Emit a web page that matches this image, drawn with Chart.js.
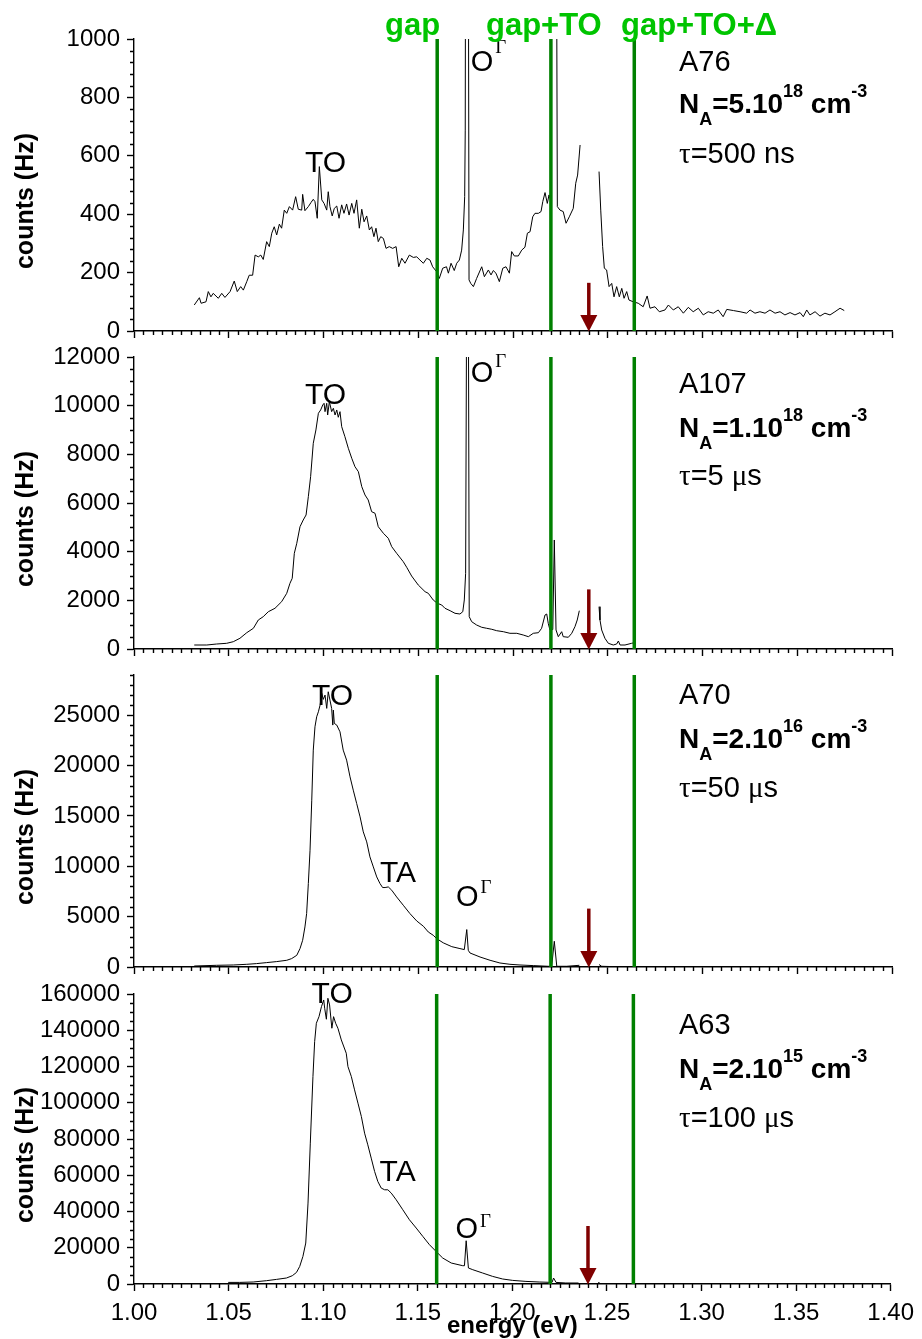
<!DOCTYPE html>
<html>
<head>
<meta charset="utf-8">
<title>PL spectra</title>
<script src="https://cdn.jsdelivr.net/npm/chart.js@4.4.1/dist/chart.umd.min.js"></script>
<style>
  body { margin: 0; background: #fff; }
  #wrap { position: relative; width: 922px; height: 1339px; }
  #wrap canvas { position: absolute; left: 0; top: 0; }
</style>
</head>
<body>
<div id="wrap">
  <canvas id="p0" width="922" height="1339"></canvas>
  <canvas id="p1" width="922" height="1339"></canvas>
  <canvas id="p2" width="922" height="1339"></canvas>
  <canvas id="p3" width="922" height="1339"></canvas>
</div>
<script>
// spectra: [energy (eV), counts (Hz)], null = detector gap
const a76 = [[1.0318,89],[1.0345,114],[1.0354,95],[1.0380,100],[1.0392,135],[1.0406,117],[1.0418,129],[1.0445,112],[1.0463,129],[1.0480,115],[1.0507,135],[1.0529,171],[1.0545,135],[1.0563,152],[1.0577,140],[1.0595,169],[1.0608,191],[1.0626,191],[1.0639,260],[1.0656,254],[1.0669,260],[1.0682,245],[1.0700,306],[1.0714,289],[1.0727,335],[1.0740,357],[1.0753,329],[1.0767,366],[1.0779,352],[1.0793,414],[1.0806,403],[1.0820,426],[1.0837,414],[1.0853,460],[1.0867,417],[1.0885,414],[1.0890,468],[1.0902,412],[1.0920,426],[1.0934,440],[1.0946,451],[1.0955,443],[1.0967,386],[1.0978,563],[1.0991,449],[1.1003,437],[1.1017,414],[1.1025,477],[1.1034,426],[1.1046,394],[1.1057,420],[1.1070,428],[1.1082,386],[1.1096,432],[1.1108,403],[1.1122,435],[1.1135,397],[1.1149,437],[1.1161,403],[1.1175,449],[1.1189,352],[1.1202,417],[1.1214,374],[1.1228,394],[1.1242,346],[1.1254,357],[1.1266,323],[1.1277,352],[1.1289,306],[1.1302,323],[1.1316,317],[1.1330,283],[1.1347,289],[1.1365,283],[1.1383,289],[1.1397,220],[1.1413,249],[1.1430,232],[1.1453,260],[1.1474,252],[1.1492,254],[1.1509,243],[1.1527,232],[1.1545,249],[1.1562,243],[1.1576,220],[1.1597,203],[1.1611,180],[1.1629,215],[1.1649,220],[1.1659,198],[1.1673,232],[1.1690,207],[1.1703,232],[1.1717,243],[1.1729,277],[1.1738,346],[1.1745,460],[1.1748,688],[1.1752,2500],[1.1761,2500],[1.1768,175],[1.1777,163],[1.1791,152],[1.1808,180],[1.1835,220],[1.1849,186],[1.1870,209],[1.1884,192],[1.1896,207],[1.1910,198],[1.1928,169],[1.1946,215],[1.1963,220],[1.1981,198],[1.1993,272],[1.2007,257],[1.2028,257],[1.2046,277],[1.2063,287],[1.2076,335],[1.2090,340],[1.2104,391],[1.2116,403],[1.2134,403],[1.2148,409],[1.2157,443],[1.2169,474],[1.2181,437],[1.2190,466],[1.2199,449],[1.2207,2500],[1.2224,2500],[1.2234,426],[1.2248,414],[1.2265,409],[1.2280,369],[1.2297,391],[1.2318,420],[1.2331,506],[1.2341,534],[1.2354,637],[1.2400,null],[1.2454,546],[1.2463,414],[1.2473,289],[1.2482,215],[1.2494,209],[1.2507,152],[1.2521,163],[1.2533,117],[1.2547,152],[1.2561,117],[1.2574,146],[1.2586,112],[1.2600,135],[1.2612,106],[1.2635,100],[1.2661,95],[1.2687,83],[1.2708,120],[1.2723,78],[1.2749,83],[1.2772,66],[1.2802,72],[1.2820,89],[1.2846,72],[1.2872,83],[1.2899,61],[1.2925,81],[1.2951,66],[1.2978,78],[1.3004,55],[1.3030,66],[1.3057,61],[1.3083,72],[1.3109,49],[1.3128,74],[1.3163,70],[1.3198,66],[1.3233,61],[1.3251,72],[1.3277,61],[1.3303,66],[1.3330,61],[1.3356,72],[1.3383,61],[1.3409,66],[1.3435,55],[1.3462,63],[1.3488,55],[1.3515,63],[1.3532,49],[1.3550,72],[1.3567,55],[1.3594,66],[1.3620,51],[1.3646,61],[1.3673,55],[1.3699,66],[1.3726,78],[1.3748,70]];

const a107 = [[1.0318,164],[1.0384,164],[1.0436,205],[1.0489,234],[1.0524,300],[1.0559,440],[1.0595,670],[1.0630,851],[1.0656,1192],[1.0682,1328],[1.0709,1533],[1.0744,1673],[1.0779,1944],[1.0806,2289],[1.0823,2700],[1.0835,2906],[1.0846,3933],[1.0859,4344],[1.0876,5026],[1.0893,5302],[1.0908,5507],[1.0920,6260],[1.0932,7082],[1.0946,8454],[1.0960,9001],[1.0973,9687],[1.0985,9823],[1.0996,10028],[1.1003,10097],[1.1008,9754],[1.1017,10097],[1.1022,9617],[1.1031,10165],[1.1043,9754],[1.1052,9892],[1.1061,9617],[1.1070,9823],[1.1078,9523],[1.1087,9754],[1.1096,9137],[1.1113,8726],[1.1131,8249],[1.1149,7838],[1.1166,7493],[1.1184,7287],[1.1202,6671],[1.1219,6329],[1.1236,6124],[1.1254,5643],[1.1272,5577],[1.1289,5026],[1.1316,4755],[1.1342,4550],[1.1360,4205],[1.1386,3933],[1.1421,3588],[1.1439,3358],[1.1465,3000],[1.1500,2630],[1.1536,2355],[1.1553,2289],[1.1579,2014],[1.1601,1878],[1.1624,1808],[1.1641,1673],[1.1668,1574],[1.1694,1467],[1.1720,1438],[1.1735,1533],[1.1743,2014],[1.1750,3111],[1.1756,16000],[1.1764,16000],[1.1769,1328],[1.1782,1122],[1.1808,986],[1.1835,892],[1.1861,851],[1.1888,810],[1.1914,752],[1.1949,711],[1.1984,645],[1.2020,645],[1.2054,575],[1.2081,506],[1.2107,645],[1.2134,670],[1.2151,851],[1.2169,1397],[1.2178,1438],[1.2186,1056],[1.2195,781],[1.2210,800],[1.2218,4480],[1.2227,781],[1.2239,506],[1.2257,711],[1.2265,506],[1.2292,481],[1.2310,645],[1.2327,917],[1.2339,1192],[1.2350,1574],[1.2400,null],[1.2454,1739],[1.2459,1192],[1.2468,781],[1.2485,440],[1.2503,234],[1.2529,164],[1.2547,205],[1.2556,329],[1.2565,164],[1.2591,164],[1.2626,234],[1.2635,250]];

const a70 = [[1.0318,99],[1.0436,169],[1.0524,199],[1.0595,268],[1.0647,338],[1.0700,437],[1.0753,537],[1.0806,666],[1.0832,835],[1.0859,1163],[1.0876,1829],[1.0890,2654],[1.0902,3976],[1.0911,5308],[1.0920,8290],[1.0929,11600],[1.0938,16570],[1.0946,21540],[1.0955,23856],[1.0964,24850],[1.0973,25347],[1.0982,26013],[1.0991,27176],[1.0999,26580],[1.1008,27007],[1.1017,25685],[1.1025,27335],[1.1034,26510],[1.1043,25685],[1.1049,24025],[1.1052,25516],[1.1057,24194],[1.1070,24025],[1.1087,23359],[1.1104,21540],[1.1122,20546],[1.1140,18886],[1.1157,17564],[1.1175,16242],[1.1193,14910],[1.1210,13419],[1.1228,12425],[1.1245,10934],[1.1263,9940],[1.1281,8946],[1.1298,8290],[1.1312,7892],[1.1325,7892],[1.1342,7952],[1.1360,7624],[1.1386,6958],[1.1421,6133],[1.1456,5308],[1.1492,4572],[1.1527,4050],[1.1553,3479],[1.1579,3151],[1.1597,2823],[1.1632,2400],[1.1677,2020],[1.1720,1829],[1.1743,1730],[1.1756,3718],[1.1764,1660],[1.1773,1392],[1.1826,994],[1.1879,666],[1.1931,398],[1.1984,268],[1.2037,199],[1.2107,139],[1.2186,70],[1.2204,70],[1.2218,2555],[1.2231,70],[1.2283,70],[1.2350,169],[1.2400,null],[1.2454,239],[1.2468,70],[1.2565,20],[1.3000,20],[1.3748,20]];

const a63 = [[1.0498,882],[1.0559,882],[1.0630,1102],[1.0700,1819],[1.0753,2536],[1.0806,3307],[1.0837,4575],[1.0859,6394],[1.0876,9701],[1.0893,15213],[1.0908,22600],[1.0920,44650],[1.0932,77720],[1.0946,114430],[1.0955,133720],[1.0964,143860],[1.0978,147500],[1.0991,153020],[1.1003,156700],[1.1008,152130],[1.1017,146070],[1.1025,157640],[1.1034,153950],[1.1046,141110],[1.1055,147500],[1.1066,143860],[1.1078,141110],[1.1096,134660],[1.1122,127330],[1.1131,119940],[1.1149,114430],[1.1166,107100],[1.1184,99770],[1.1202,92380],[1.1219,83230],[1.1236,76780],[1.1254,69450],[1.1272,62070],[1.1289,56560],[1.1307,52920],[1.1325,51980],[1.1342,51980],[1.1360,50160],[1.1386,46470],[1.1421,40960],[1.1456,35440],[1.1492,30870],[1.1527,26240],[1.1562,21660],[1.1597,17970],[1.1632,14330],[1.1677,11580],[1.1738,10090],[1.1747,10090],[1.1756,23870],[1.1768,8820],[1.1791,7880],[1.1843,6063],[1.1896,4190],[1.1949,2756],[1.2002,1984],[1.2072,1433],[1.2142,1102],[1.2210,882],[1.2218,3307],[1.2231,882],[1.2283,551],[1.2350,551],[1.2400,null],[1.2454,882],[1.2468,165],[1.2635,100]];

const spectra = [a76, a107, a70, a63];

// sample labels
const sampleNames = ['A76', 'A107', 'A70', 'A63'];
const dopingMantissa = ['5', '1', '2', '2'];
const dopingExponent = ['18', '18', '16', '15'];
const lifetimeValue = ['500', '5', '50', '100'];
const lifetimeUnit = ['ns', 'μs', 'μs', 'μs'];

// reference energies (eV): gap, gap+TO, gap+TO+Δ
const markerEnergies = [1.16, 1.22, 1.264];
const markerLabels = ['gap', 'gap+TO', 'gap+TO+Δ'];
const arrowEnergy = 1.24;
const arrowTops = [165, 2450, 5800, 32000];

// axes
const energyMin = 1.0, energyMax = 1.4, energyStep = 0.05, energyMinor = 0.005;
const countsMax = [1000, 12000, 29000, 160000];
const countsStep = [200, 2000, 5000, 20000];
const countsMinor = [40, 500, 1000, 5000];

// page layout (px)
const panelTop = [39, 357, 675, 994];
const panelBottom = [331, 649, 967, 1284];
const plotLeft = 134, plotRight = 892, xAxisBox = 50;
const infoBaselines = [[32, 74, 124], [36, 80, 128], [29, 73, 122], [40, 84, 133]];
const toLabel = [[1.0902, 133], [1.0902, 47], [1.0939, 30], [1.0939, 9]];
const taLabel = [null, null, [1.1298, 207], [1.1298, 187]];
const oLabel = [[1.1777, 32, -18], [1.1777, 25, -15], [1.1699, 231, -13], [1.1699, 244, -11]];

const SANS = "'Liberation Sans', Arial, sans-serif";
const SERIF = "'Liberation Serif', 'Times New Roman', serif";
Chart.defaults.font.family = SANS;
Chart.defaults.color = '#000';

function drawRuns(ctx, x, y, runs) {
  for (const r of runs) {
    ctx.font = r.font;
    ctx.fillText(r.t, x + (r.dx || 0), y + (r.dy || 0));
    x += ctx.measureText(r.t).width + (r.dx || 0);
  }
}

function crisp(v) { return Math.round(v) + 0.5; }

const panelDecor = {
  id: 'panelDecor',
  afterDatasetsDraw(chart, args, opts) {
    const i = opts.panel;
    const { ctx, scales: { x, y } } = chart;
    const ax = x.getPixelForValue(arrowEnergy);
    const y0 = y.getPixelForValue(0);
    const yt = y.getPixelForValue(arrowTops[i]);
    ctx.save();
    ctx.strokeStyle = ctx.fillStyle = '#800000';
    ctx.lineWidth = 3.5;
    ctx.beginPath();
    ctx.moveTo(ax, yt);
    ctx.lineTo(ax, y0 - 12);
    ctx.stroke();
    ctx.beginPath();
    ctx.moveTo(ax - 8.5, y0 - 16);
    ctx.lineTo(ax + 8.5, y0 - 16);
    ctx.lineTo(ax, y0 + 0.5);
    ctx.closePath();
    ctx.fill();
    ctx.restore();
  },
  afterDraw(chart, args, opts) {
    const i = opts.panel;
    const { ctx, chartArea: area, scales: { x, y } } = chart;
    ctx.save();

    // minor ticks
    ctx.strokeStyle = '#000';
    ctx.lineWidth = 1.4;
    ctx.beginPath();
    const nx = Math.round((energyMax - energyMin) / energyMinor);
    for (let k = 0; k <= nx; k++) {
      if (k % 10 === 0) continue;
      const px = crisp(x.getPixelForValue(energyMin + k * energyMinor));
      ctx.moveTo(px, area.bottom);
      ctx.lineTo(px, area.bottom + 4);
    }
    const ny = Math.round(countsMax[i] / countsMinor[i]);
    for (let k = 0; k <= ny; k++) {
      const v = k * countsMinor[i];
      if (v % countsStep[i] === 0) continue;
      const py = crisp(y.getPixelForValue(v));
      ctx.moveTo(area.left, py);
      ctx.lineTo(area.left - 4, py);
    }
    ctx.stroke();

    ctx.fillStyle = '#000';
    ctx.textAlign = 'left';
    ctx.textBaseline = 'alphabetic';

    // y axis title
    ctx.save();
    ctx.translate(26, (area.top + area.bottom) / 2 + 16);
    ctx.rotate(-Math.PI / 2);
    ctx.textAlign = 'center';
    ctx.textBaseline = 'middle';
    ctx.font = 'bold 25px ' + SANS;
    ctx.fillText('counts (Hz)', 0, 0);
    ctx.restore();

    // sample info
    const lx = 679;
    const [b1, b2, b3] = infoBaselines[i];
    ctx.font = '29px ' + SANS;
    ctx.fillText(sampleNames[i], lx, area.top + b1);
    drawRuns(ctx, lx, area.top + b2, [
      { t: 'N', font: 'bold 28px ' + SANS },
      { t: 'A', font: 'bold 18px ' + SANS, dy: 12 },
      { t: '=' + dopingMantissa[i] + '.10', font: 'bold 28px ' + SANS },
      { t: dopingExponent[i], font: 'bold 18px ' + SANS, dy: -16 },
      { t: ' cm', font: 'bold 28px ' + SANS },
      { t: '-3', font: 'bold 18px ' + SANS, dy: -16 }
    ]);
    const unit = lifetimeUnit[i];
    const tauRuns = [
      { t: 'τ', font: '29px ' + SERIF },
      { t: '=' + lifetimeValue[i] + ' ', font: '29px ' + SANS }
    ];
    if (unit[0] === 'μ') {
      tauRuns.push({ t: 'μ', font: '29px ' + SERIF });
      tauRuns.push({ t: unit.slice(1), font: '29px ' + SANS });
    } else {
      tauRuns.push({ t: unit, font: '29px ' + SANS });
    }
    drawRuns(ctx, lx, area.top + b3, tauRuns);

    // peak labels
    ctx.font = '30px ' + SANS;
    ctx.fillText('TO', x.getPixelForValue(toLabel[i][0]), area.top + toLabel[i][1]);
    if (taLabel[i]) {
      ctx.fillText('TA', x.getPixelForValue(taLabel[i][0]), area.top + taLabel[i][1]);
    }
    drawRuns(ctx, x.getPixelForValue(oLabel[i][0]), area.top + oLabel[i][1], [
      { t: 'O', font: '29px ' + SANS },
      { t: 'Γ', font: '19px ' + SERIF, dy: oLabel[i][2], dx: 2 }
    ]);

    // energy markers names above the top panel
    if (i === 0) {
      ctx.fillStyle = '#00c400';
      ctx.font = 'bold 31px ' + SANS;
      const lefts = [385, 486, 621];
      markerLabels.forEach((t, k) => ctx.fillText(t, lefts[k], 35));
    }
    // x axis title under the bottom panel
    if (i === 3) {
      ctx.fillStyle = '#000';
      ctx.textAlign = 'center';
      ctx.font = 'bold 24px ' + SANS;
      ctx.fillText('energy (eV)', (area.left + area.right) / 2, 1333);
    }
    ctx.restore();
  }
};

function makePanel(i) {
  const markerSets = markerEnergies.map(e => ({
    data: [{ x: e, y: 0 }, { x: e, y: countsMax[i] }],
    borderColor: '#008000',
    borderWidth: 3.5,
    pointRadius: 0
  }));
  const spectrumSet = {
    data: spectra[i].map(p => ({ x: p[0], y: p[1] })),
    borderColor: '#000',
    borderWidth: 1,
    pointRadius: 0,
    tension: 0,
    spanGaps: false
  };
  const last = i === 3;
  new Chart(document.getElementById('p' + i), {
    type: 'line',
    data: { datasets: [...markerSets, spectrumSet] },
    options: {
      responsive: false,
      devicePixelRatio: 1,
      animation: false,
      events: [],
      layout: {
        padding: { left: 0, right: 922 - plotRight, top: panelTop[i], bottom: 1339 - panelBottom[i] - xAxisBox }
      },
      plugins: {
        legend: { display: false },
        tooltip: { enabled: false },
        panelDecor: { panel: i }
      },
      scales: {
        x: {
          type: 'linear',
          min: energyMin,
          max: energyMax,
          afterFit: s => { s.height = xAxisBox; },
          grid: { drawOnChartArea: false, drawTicks: true, tickLength: 7, tickColor: '#000', tickWidth: 1.4 },
          border: { display: true, color: '#000', width: 1.4 },
          ticks: {
            display: last,
            stepSize: energyStep,
            padding: 8,
            font: { size: 24 },
            maxRotation: 0,
            autoSkip: false,
            callback: v => Number(v).toFixed(2)
          }
        },
        y: {
          type: 'linear',
          min: 0,
          max: countsMax[i],
          afterFit: s => { s.width = plotLeft; },
          afterBuildTicks: s => {
            const t = [];
            for (let v = 0; v <= countsMax[i]; v += countsStep[i]) t.push({ value: v });
            s.ticks = t;
          },
          grid: { drawOnChartArea: false, drawTicks: true, tickLength: 7, tickColor: '#000', tickWidth: 1.4 },
          border: { display: true, color: '#000', width: 1.4 },
          ticks: {
            padding: 7,
            font: { size: 24 },
            autoSkip: false,
            callback: v => String(v)
          }
        }
      }
    },
    plugins: [panelDecor]
  });
}

for (let i = 0; i < 4; i++) makePanel(i);
</script>
</body>
</html>
